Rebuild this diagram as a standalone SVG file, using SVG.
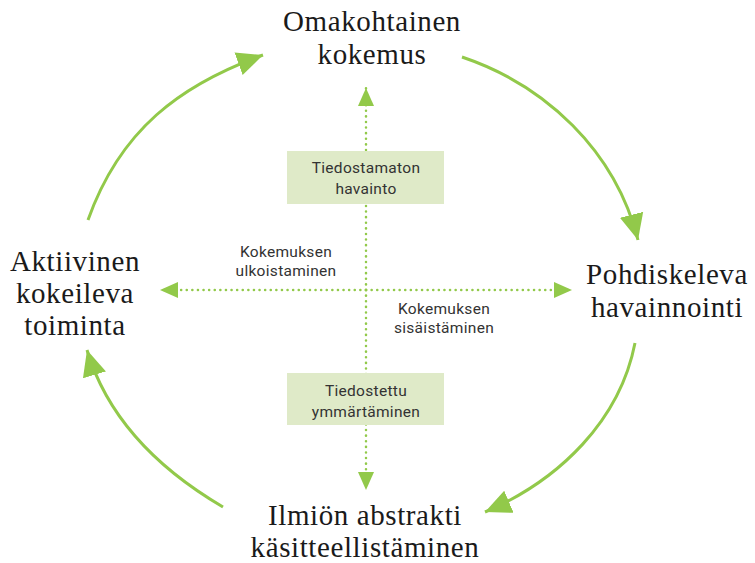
<svg xmlns="http://www.w3.org/2000/svg" width="755" height="563" viewBox="0 0 755 563">
<style>
.main{font-family:"Liberation Serif","DejaVu Serif",serif;font-size:29px;letter-spacing:0.6px;fill:#1a1a1a;text-anchor:middle}
.small{font-family:Roboto,"Liberation Sans",sans-serif;font-size:15.5px;letter-spacing:0.3px;fill:#333;text-anchor:middle}
.arc{fill:none;stroke:#92c94a;stroke-width:3}
.dot{fill:none;stroke:#92c94a;stroke-width:2.5;stroke-dasharray:0.1 5.5;stroke-linecap:round}
.box{fill:#dfeac8}
</style>
<defs>
<marker id="big" markerUnits="userSpaceOnUse" markerWidth="30" markerHeight="30" refX="26" refY="12" orient="auto" viewBox="0 0 30 24">
<path d="M0,0 L26,12 L0,24 Z" fill="#92c94a"/>
</marker>
<marker id="sm" markerUnits="userSpaceOnUse" markerWidth="20" markerHeight="16" refX="18" refY="8" orient="auto" viewBox="0 0 20 16">
<path d="M0,0 L18,8 L0,16 Z" fill="#92c94a"/>
</marker>
</defs>
<g id="connectors">
<path class="arc" d="M462,57 C545,85 615,150 638,240" marker-end="url(#big)"/>
<path class="arc" d="M635,343 C620,420 560,480 485,512" marker-end="url(#big)"/>
<path class="arc" d="M223,507 C160,470 108,420 87,350" marker-end="url(#big)"/>
<path class="arc" d="M88,220 C120,130 180,85 263,55" marker-end="url(#big)"/>
<path class="dot" d="M366,290 L366,88" marker-end="url(#sm)"/>
<path class="dot" d="M366,290 L366,490" marker-end="url(#sm)"/>
<path class="dot" d="M366,290 L160,290" marker-end="url(#sm)"/>
<path class="dot" d="M366,290 L572,290" marker-end="url(#sm)"/>
</g>
<g id="n-top"><text class="main" x="372" y="31">Omakohtainen</text><text class="main" x="372" y="64">kokemus</text></g>
<g id="n-right"><text class="main" x="667" y="284">Pohdiskeleva</text><text class="main" x="667" y="317">havainnointi</text></g>
<g id="n-bottom"><text class="main" x="365" y="525">Ilmiön abstrakti</text><text class="main" x="365" y="557">käsitteellistäminen</text></g>
<g id="n-left"><text class="main" x="75" y="271">Aktiivinen</text><text class="main" x="75" y="303">kokeileva</text><text class="main" x="75" y="335">toiminta</text></g>
<g id="b-top"><rect class="box" x="287" y="151" width="157" height="53"/><text class="small" x="366" y="173">Tiedostamaton</text><text class="small" x="366" y="194">havainto</text></g>
<g id="b-bottom"><rect class="box" x="287" y="373" width="157" height="52"/><text class="small" x="366" y="396">Tiedostettu</text><text class="small" x="366" y="417">ymmärtäminen</text></g>
<g id="l-left"><text class="small" x="286" y="257">Kokemuksen</text><text class="small" x="286" y="276">ulkoistaminen</text></g>
<g id="l-right"><text class="small" x="444" y="314">Kokemuksen</text><text class="small" x="444" y="333">sisäistäminen</text></g>
</svg>
